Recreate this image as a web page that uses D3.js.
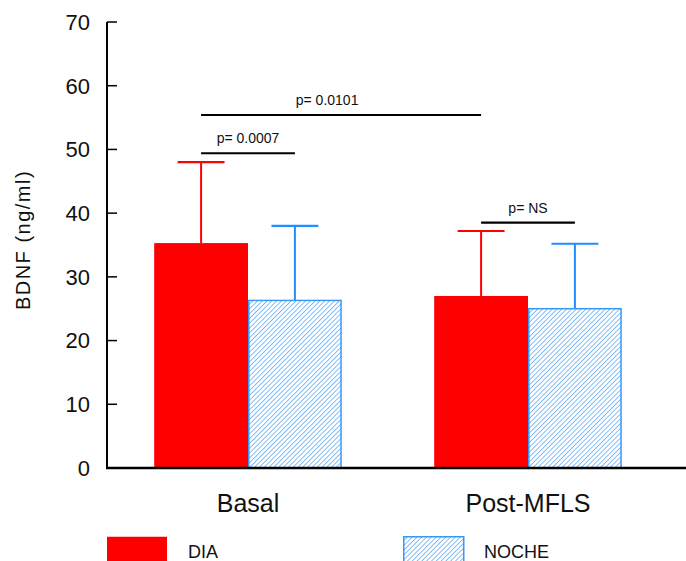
<!DOCTYPE html>
<html>
<head>
<meta charset="utf-8">
<script src="https://cdn.jsdelivr.net/npm/d3@7"></script>
<style>
  body { margin: 0; background: #fff; }
  text { font-family: "Liberation Sans", Arial, sans-serif; fill: #111; }
</style>
</head>
<body>
<script>
// BDNF day / night, basal vs post-MFLS

var categories = ["Basal", "Post-MFLS"];
var seriesNames = ["DIA", "NOCHE"];
var diaMean = [35.3, 27.0];
var diaErr = [48.0, 37.2];      // top of error bar
var nocheMean = [26.3, 25.0];
var nocheErr = [38.0, 35.2];
var yTicks = [0, 10, 20, 30, 40, 50, 60, 70];

// significance brackets: [catA, seriesA, catB, seriesB, level, label]
var brackets = [
    ["Basal", "DIA", "Basal", "NOCHE", 49.4, "p= 0.0007"],
    ["Basal", "DIA", "Post-MFLS", "DIA", 55.4, "p= 0.0101"],
    ["Post-MFLS", "DIA", "Post-MFLS", "NOCHE", 38.5, "p= NS"]
];

var W = 686, H = 561;
var plotLeft = 107, plotBottom = 468, plotTop = 22, plotRight = 686;

var svg = d3.select("body").append("svg")
    .attr("width", W)
    .attr("height", H);

var defs = svg.append("defs");
var pat = defs.append("pattern")
    .attr("id", "hatch")
    .attr("patternUnits", "userSpaceOnUse")
    .attr("width", 3.4)
    .attr("height", 3.4)
    .attr("patternTransform", "rotate(45)");
pat.append("rect").attr("width", 3.4).attr("height", 3.4).attr("fill", "#fff");
pat.append("line")
    .attr("x1", 0).attr("y1", 0).attr("x2", 0).attr("y2", 3.4)
    .attr("stroke", "#6fb3f8").attr("stroke-width", 1.7);

var y = d3.scaleLinear().domain([0, 70]).range([plotBottom, plotTop]);

var x0 = d3.scaleBand()
    .domain(categories)
    .range([108, 668])
    .paddingInner(0.33)
    .paddingOuter(0.165);

var x1 = d3.scaleBand()
    .domain(seriesNames)
    .range([0, x0.bandwidth()]);

var data = [];
categories.forEach(function(c, i) {
    data.push({cat: c, s: "DIA", v: diaMean[i], e: diaErr[i]});
    data.push({cat: c, s: "NOCHE", v: nocheMean[i], e: nocheErr[i]});
});

function barX(d) { return x0(d.cat) + x1(d.s); }
function barMid(cat, s) { return x0(cat) + x1(s) + x1.bandwidth() / 2; }
function errColor(s) { return s === "DIA" ? "#ff0000" : "#1f8fff"; }

// error bars (behind bars)
var capHalf = x1.bandwidth() / 4;
var eb = svg.append("g").selectAll("g").data(data).enter().append("g");
eb.append("line")
    .attr("x1", function(d) { return barMid(d.cat, d.s); })
    .attr("x2", function(d) { return barMid(d.cat, d.s); })
    .attr("y1", function(d) { return y(d.v); })
    .attr("y2", function(d) { return y(d.e); })
    .attr("stroke", function(d) { return errColor(d.s); })
    .attr("stroke-width", 2);
eb.append("line")
    .attr("x1", function(d) { return barMid(d.cat, d.s) - capHalf; })
    .attr("x2", function(d) { return barMid(d.cat, d.s) + capHalf; })
    .attr("y1", function(d) { return y(d.e); })
    .attr("y2", function(d) { return y(d.e); })
    .attr("stroke", function(d) { return errColor(d.s); })
    .attr("stroke-width", 2.2);

// bars
svg.append("g").selectAll("rect").data(data).enter().append("rect")
    .attr("x", function(d) { return d.s === "DIA" ? barX(d) : barX(d) + 0.75; })
    .attr("y", function(d) { return y(d.v); })
    .attr("width", function(d) { return d.s === "DIA" ? x1.bandwidth() : x1.bandwidth() - 1.5; })
    .attr("height", function(d) { return y(0) - y(d.v); })
    .attr("fill", function(d) { return d.s === "DIA" ? "#ff0000" : "url(#hatch)"; })
    .attr("stroke", function(d) { return d.s === "DIA" ? "none" : "#3a98f5"; })
    .attr("stroke-width", 1.5);

// axes
svg.append("line")
    .attr("x1", plotLeft).attr("x2", plotLeft)
    .attr("y1", plotTop).attr("y2", plotBottom + 1)
    .attr("stroke", "#000").attr("stroke-width", 2);
svg.append("line")
    .attr("x1", plotLeft - 1).attr("x2", plotRight)
    .attr("y1", plotBottom).attr("y2", plotBottom)
    .attr("stroke", "#000").attr("stroke-width", 2.5);

var tk = svg.append("g").selectAll("g").data(yTicks).enter().append("g");
tk.append("line")
    .attr("x1", plotLeft).attr("x2", plotLeft + 10)
    .attr("y1", function(d) { return y(d); })
    .attr("y2", function(d) { return y(d); })
    .attr("stroke", "#000").attr("stroke-width", 1.5);
tk.append("text")
    .attr("x", plotLeft - 17)
    .attr("y", function(d) { return y(d); })
    .attr("dy", "0.36em")
    .attr("text-anchor", "end")
    .style("font-size", "22px")
    .text(function(d) { return d; });

// category labels
svg.append("g").selectAll("text").data(categories).enter().append("text")
    .attr("x", function(d) { return x0(d) + x0.bandwidth() / 2; })
    .attr("y", 512)
    .attr("text-anchor", "middle")
    .style("font-size", "25px")
    .text(function(d) { return d; });

// y axis title
svg.append("text")
    .attr("transform", "translate(30,240) rotate(-90)")
    .attr("text-anchor", "middle")
    .style("font-size", "20px")
    .style("letter-spacing", "1.5px")
    .text("BDNF  (ng/ml)");

// significance brackets
var br = svg.append("g").selectAll("g").data(brackets).enter().append("g");
br.append("line")
    .attr("x1", function(d) { return barMid(d[0], d[1]); })
    .attr("x2", function(d) { return barMid(d[2], d[3]); })
    .attr("y1", function(d) { return y(d[4]); })
    .attr("y2", function(d) { return y(d[4]); })
    .attr("stroke", "#000").attr("stroke-width", 2.2);
br.append("text")
    .attr("x", function(d) {
        var m = (barMid(d[0], d[1]) + barMid(d[2], d[3])) / 2;
        return d[0] !== d[2] ? m - 14 : m;
    })
    .attr("y", function(d) { return y(d[4]) - 10; })
    .attr("text-anchor", "middle")
    .style("font-size", "14px")
    .text(function(d) { return d[5]; });

// legend
var legX = [107, 403];
var lg = svg.append("g").selectAll("g").data(seriesNames).enter().append("g")
    .attr("transform", function(d, i) { return "translate(" + legX[i] + ",536)"; });
lg.append("rect")
    .attr("x", function(d) { return d === "DIA" ? 0 : 0.75; })
    .attr("y", 0.75)
    .attr("width", 60)
    .attr("height", 30)
    .attr("fill", function(d) { return d === "DIA" ? "#ff0000" : "url(#hatch)"; })
    .attr("stroke", function(d) { return d === "DIA" ? "none" : "#3a98f5"; })
    .attr("stroke-width", 1.5);
lg.append("text")
    .attr("x", 81)
    .attr("y", 22)
    .style("font-size", "18px")
    .text(function(d) { return d; });
</script>
</body>
</html>
